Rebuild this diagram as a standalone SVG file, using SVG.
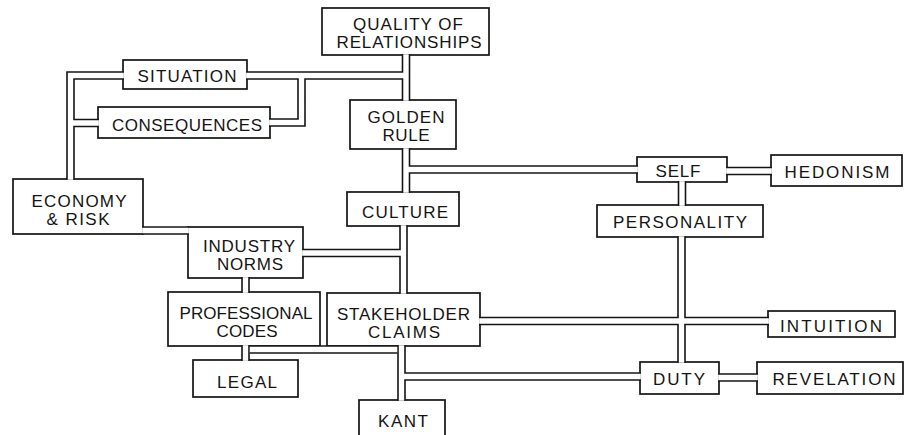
<svg xmlns="http://www.w3.org/2000/svg" xmlns:xlink="http://www.w3.org/1999/xlink" width="904" height="435" viewBox="0 0 904 435">
<style>
.node rect{fill:#fff;stroke:#141414;stroke-width:1.7}
text{font-family:"Liberation Sans",Arial,sans-serif;font-size:17px;fill:#141414;text-anchor:middle}
.outer{fill:none;stroke:#141414;stroke-width:8.6;stroke-linejoin:miter;stroke-linecap:butt}
.inner{fill:none;stroke:#fff;stroke-width:5.4;stroke-linejoin:miter;stroke-linecap:butt}
</style>
<defs>
<path id="c1" d="M123.85,75.5 H70.5 V179.85 M70.5,123 H98.85"/>
<path id="c2" d="M246.15,75.5 H406 M406,54.15 V100.85 M301.5,75.5 V122.5 H269.15"/>
<path id="c3" d="M406,148.15 V192.85 M406,169.5 H637.85"/>
<path id="c4" d="M726.15,171 H771.85"/>
<path id="c5" d="M682,181.15 V205.85"/>
<path id="c6" d="M681.5,236.15 V362.85 M479.15,321 H768.85"/>
<path id="c7" d="M403.5,225.15 V293.85 M403.5,253 H302.15"/>
<path id="c8" d="M142.15,230.5 H188.85"/>
<path id="c9" d="M245.5,277.15 V292.85"/>
<path id="c10" d="M245.5,345.15 V360.85"/>
<path id="c11" d="M249.8,349.5 H397.2"/>
<path id="c12" d="M401.5,345.15 V400.85 M401.5,376.5 H640.85"/>
<path id="c13" d="M718.15,377.5 H757.85"/>
</defs>
<rect x="0" y="0" width="904" height="435" fill="#fff"/>

<g id="quality" class="node"><rect x="322" y="8" width="167" height="47"/>
<text x="408" y="30" textLength="110" lengthAdjust="spacing">QUALITY OF</text>
<text x="409" y="48" textLength="145" lengthAdjust="spacing">RELATIONSHIPS</text></g>
<g id="situation" class="node"><rect x="123" y="60" width="124" height="29"/>
<text x="187" y="82" textLength="99" lengthAdjust="spacing">SITUATION</text></g>
<g id="consequences" class="node"><rect x="98" y="107" width="172" height="31"/>
<text x="187" y="131" textLength="150" lengthAdjust="spacing">CONSEQUENCES</text></g>
<g id="golden-rule" class="node"><rect x="350" y="100" width="106" height="49"/>
<text x="406" y="123" textLength="77" lengthAdjust="spacing">GOLDEN</text>
<text x="406" y="141" textLength="47" lengthAdjust="spacing">RULE</text></g>
<g id="economy" class="node"><rect x="13" y="179" width="130" height="55"/>
<text x="79" y="207" textLength="95" lengthAdjust="spacing">ECONOMY</text>
<text x="78" y="225" textLength="63" lengthAdjust="spacing">&amp; RISK</text></g>
<g id="culture" class="node"><rect x="347" y="192" width="112" height="34"/>
<text x="405" y="218" textLength="86" lengthAdjust="spacing">CULTURE</text></g>
<g id="self" class="node"><rect x="637" y="157" width="90" height="25"/>
<text x="678" y="177" textLength="45" lengthAdjust="spacing">SELF</text></g>
<g id="hedonism" class="node"><rect x="771" y="155" width="131" height="31"/>
<text x="837" y="178" textLength="105" lengthAdjust="spacing">HEDONISM</text></g>
<g id="personality" class="node"><rect x="597" y="205" width="166" height="32"/>
<text x="680" y="228" textLength="134" lengthAdjust="spacing">PERSONALITY</text></g>
<g id="industry-norms" class="node"><rect x="188" y="227" width="115" height="51"/>
<text x="249" y="252" textLength="92" lengthAdjust="spacing">INDUSTRY</text>
<text x="250" y="270" textLength="66" lengthAdjust="spacing">NORMS</text></g>
<g id="professional-codes" class="node"><rect x="168" y="292" width="152" height="54"/>
<text x="246" y="319" textLength="133" lengthAdjust="spacing">PROFESSIONAL</text>
<text x="247" y="337" textLength="61" lengthAdjust="spacing">CODES</text></g>
<g id="stakeholder-claims" class="node"><rect x="327" y="293" width="153" height="53"/>
<text x="403.5" y="320" textLength="133" lengthAdjust="spacing">STAKEHOLDER</text>
<text x="404" y="338" textLength="72" lengthAdjust="spacing">CLAIMS</text></g>
<g id="intuition" class="node"><rect x="768" y="311" width="127" height="26"/>
<text x="831" y="332" textLength="102" lengthAdjust="spacing">INTUITION</text></g>
<g id="legal" class="node"><rect x="193" y="360" width="105" height="37"/>
<text x="247" y="388" textLength="60" lengthAdjust="spacing">LEGAL</text></g>
<g id="duty" class="node"><rect x="640" y="362" width="79" height="32"/>
<text x="679" y="385" textLength="52" lengthAdjust="spacing">DUTY</text></g>
<g id="revelation" class="node"><rect x="757" y="362" width="146" height="32"/>
<text x="834" y="385" textLength="123" lengthAdjust="spacing">REVELATION</text></g>
<g id="kant" class="node"><rect x="359" y="400" width="86" height="45"/>
<text x="403" y="427" textLength="50" lengthAdjust="spacing">KANT</text></g>

<g id="connectors">
<g class="outer">
<use xlink:href="#c1" href="#c1"/><use xlink:href="#c2" href="#c2"/><use xlink:href="#c3" href="#c3"/><use xlink:href="#c4" href="#c4"/><use xlink:href="#c5" href="#c5"/><use xlink:href="#c6" href="#c6"/><use xlink:href="#c7" href="#c7"/><use xlink:href="#c8" href="#c8"/><use xlink:href="#c9" href="#c9"/><use xlink:href="#c10" href="#c10"/><use xlink:href="#c11" href="#c11"/><use xlink:href="#c12" href="#c12"/><use xlink:href="#c13" href="#c13"/>
</g>
<g class="inner">
<use xlink:href="#c1" href="#c1"/><use xlink:href="#c2" href="#c2"/><use xlink:href="#c3" href="#c3"/><use xlink:href="#c4" href="#c4"/><use xlink:href="#c5" href="#c5"/><use xlink:href="#c6" href="#c6"/><use xlink:href="#c7" href="#c7"/><use xlink:href="#c8" href="#c8"/><use xlink:href="#c9" href="#c9"/><use xlink:href="#c10" href="#c10"/><use xlink:href="#c11" href="#c11"/><use xlink:href="#c12" href="#c12"/><use xlink:href="#c13" href="#c13"/>
</g>
</g>
</svg>
